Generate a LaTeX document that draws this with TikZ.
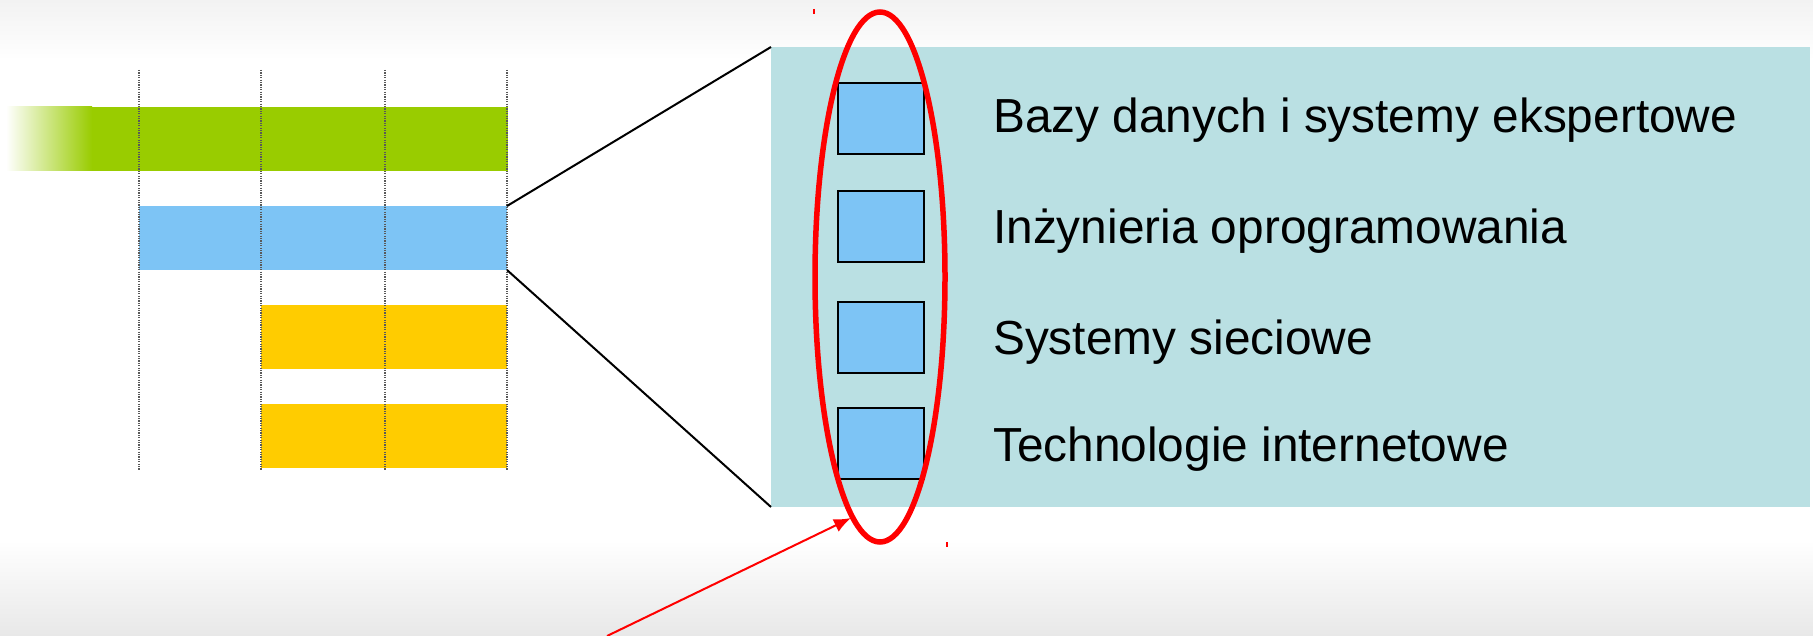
\documentclass[tikz,border=0pt]{standalone}
\usepackage{fontspec}
\setmainfont{Liberation Sans}
\usetikzlibrary{arrows.meta,shapes.geometric}
\definecolor{barGreen}{HTML}{99CC00}
\definecolor{barBlue}{HTML}{7DC4F5}
\definecolor{barYellow}{HTML}{FFCC00}
\definecolor{panelTeal}{HTML}{BAE0E3}
\definecolor{bgGray}{HTML}{F2F2F2}
\definecolor{bgGrayB}{HTML}{E8E8E8}
\begin{document}
\begin{tikzpicture}[x=1pt,y=-1pt,
  bar/.style={anchor=north west,inner sep=0pt,outer sep=0pt,minimum height=64pt},
  grid/.style={line width=1.6pt,gray!70!black,dash pattern=on 1.2pt off 1.2pt},
  sq/.style={anchor=north west,draw=black,line width=2pt,fill=barBlue,inner sep=0pt,minimum width=86pt,minimum height=71pt},
  lbl/.style={anchor=base west,inner sep=0pt,font=\fontsize{47.8}{57}\selectfont},
  zoomline/.style={line width=2pt,black},
  redmark/.style={red,line width=1.2pt}
]
\useasboundingbox (0,0) rectangle (1813,636);
% background
\fill[white] (0,0) rectangle (1813,636);
\shade[top color=bgGray,bottom color=white] (0,0) rectangle (1813,60);
\shade[top color=white,bottom color=bgGrayB] (0,540) rectangle (1813,636);
% grid lines
\foreach \gx/\nm in {139/g1,261/g2,385/g3,507/g4}{
  \coordinate (\nm t) at (\gx,70);
  \coordinate (\nm b) at (\gx,470);
}
% bars
\node[bar,fill=barGreen,minimum width=416pt] (green) at (92,107) {};
\shade[left color=white,right color=barGreen] (6,107) rectangle (92,171);
\node[bar,fill=barBlue,minimum width=368pt] (blue) at (139,206) {};
\node[bar,fill=barYellow,minimum width=246pt] (yel1) at (261,305) {};
\node[bar,fill=barYellow,minimum width=246pt] (yel2) at (261,404) {};
\foreach \nm in {g1,g2,g3,g4}{
  \draw[grid] (\nm t) -- (\nm b);
}
% panel
\node[anchor=north west,fill=panelTeal,inner sep=0pt,outer sep=0pt,minimum width=1039pt,minimum height=460pt] (panel) at (771,47) {};
\draw[zoomline] (blue.north east) -- (panel.north west);
\draw[zoomline] (blue.south east) -- (panel.south west);
% squares
\node[sq] (s1) at (837,82) {};
\node[sq] (s2) at (837,190) {};
\node[sq] (s3) at (837,301) {};
\node[sq] (s4) at (837,407) {};
% labels
\node[lbl] (t1) at (993,133) {Bazy danych i systemy ekspertowe};
\node[lbl] (t2) at (993,244) {Inżynieria oprogramowania};
\node[lbl] (t3) at (993,355) {Systemy sieciowe};
\node[lbl] (t4) at (993,461) {Technologie internetowe};
% red ellipse
\node[ellipse,draw=red,line width=5.5pt,minimum width=130pt,minimum height=530pt,inner sep=0pt] (sel) at (880,277) {};
\coordinate (mk1a) at (814,9); \coordinate (mk1b) at (814,14);
\coordinate (mk2a) at (947,542); \coordinate (mk2b) at (947,547);
\draw[redmark] (mk1a) -- (mk1b);
\draw[redmark] (mk2a) -- (mk2b);
% red arrow
\coordinate (arrS) at (607,636);
\coordinate (arrT) at (851,518);
\draw[red,line width=2pt,-{Latex[length=17pt,width=14pt]}] (arrS) -- (arrT);
\end{tikzpicture}
\end{document}
